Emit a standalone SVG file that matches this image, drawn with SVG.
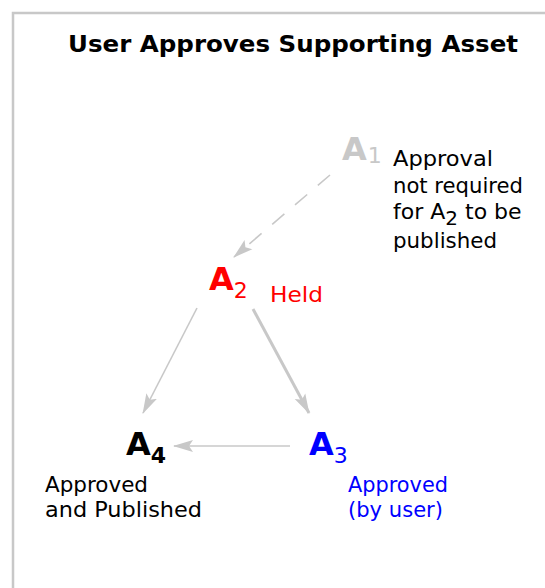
<svg xmlns="http://www.w3.org/2000/svg" width="545" height="588" viewBox="0 0 545 588">
<style>
  .frame { fill: none; stroke: #c8c8c8; stroke-width: 2.5; }
  .title { font-family: "DejaVu Sans", "Liberation Sans", sans-serif; font-weight: bold; font-size: 23px; fill: #000; }
  .big { font-family: "DejaVu Sans", "Liberation Sans", sans-serif; font-weight: bold; font-size: 32px; }
  .sub { font-size: 22px; font-weight: normal; }
  .sub.bold { font-weight: bold; }
  .lbl { font-family: "DejaVu Sans", "Liberation Sans", sans-serif; font-size: 22px; }
  .edge { fill: none; stroke: #c8c8c8; }
</style>
<defs>
  <marker id="ah" viewBox="0 0 20 14" refX="19" refY="7" markerWidth="20" markerHeight="14" markerUnits="userSpaceOnUse" orient="auto">
    <path d="M0,1 L20,7 L0,13 L4,7 z" fill="#c8c8c8"/>
  </marker>
</defs>
<rect x="0" y="0" width="545" height="588" fill="#fff"/>
<rect class="frame" x="13" y="13" width="600" height="620"/>
<text class="title" x="68" y="52" textLength="450" lengthAdjust="spacingAndGlyphs">User Approves Supporting Asset</text>

<g id="connectors">
  <line class="edge" x1="330" y1="175" x2="234" y2="257" stroke-width="1.6" stroke-dasharray="16 14" marker-end="url(#ah)"/>
  <line class="edge" x1="197" y1="308" x2="143" y2="413" stroke-width="1.6" marker-end="url(#ah)"/>
  <line class="edge" x1="253" y1="309" x2="309" y2="413" stroke-width="3" marker-end="url(#ah)"/>
  <line class="edge" x1="290" y1="446" x2="174" y2="446" stroke-width="1.6" marker-end="url(#ah)"/>
</g>

<g id="A1">
  <text class="big" x="342" y="160" fill="#c8c8c8">A<tspan class="sub" dx="1" dy="3">1</tspan></text>
  <text class="lbl" fill="#000">
    <tspan x="393" y="166" textLength="100" lengthAdjust="spacingAndGlyphs">Approval</tspan>
    <tspan x="393" y="193" textLength="130" lengthAdjust="spacingAndGlyphs">not required</tspan>
    <tspan x="393" y="219">for A<tspan dy="6" font-size="20px">2</tspan><tspan dy="-6"> to be</tspan></tspan>
    <tspan x="393" y="248" textLength="104" lengthAdjust="spacingAndGlyphs">published</tspan>
  </text>
</g>

<g id="A2">
  <text class="big" x="209" y="290" fill="#ff0000">A<tspan class="sub" dx="0" dy="8">2</tspan></text>
  <text class="lbl" x="270" y="302" fill="#ff0000" textLength="53" lengthAdjust="spacingAndGlyphs">Held</text>
</g>

<g id="A3">
  <text class="big" x="309" y="455" fill="#0000ff">A<tspan class="sub" dx="0" dy="8">3</tspan></text>
  <text class="lbl" fill="#0000ff">
    <tspan x="348" y="492" textLength="100" lengthAdjust="spacingAndGlyphs">Approved</tspan>
    <tspan x="348" y="517" textLength="95" lengthAdjust="spacingAndGlyphs">(by user)</tspan>
  </text>
</g>

<g id="A4">
  <text class="big" x="126" y="455" fill="#000">A<tspan class="sub bold" dx="0" dy="8">4</tspan></text>
  <text class="lbl" fill="#000">
    <tspan x="45" y="492" textLength="103" lengthAdjust="spacingAndGlyphs">Approved</tspan>
    <tspan x="45" y="517" textLength="157" lengthAdjust="spacingAndGlyphs">and Published</tspan>
  </text>
</g>
</svg>
